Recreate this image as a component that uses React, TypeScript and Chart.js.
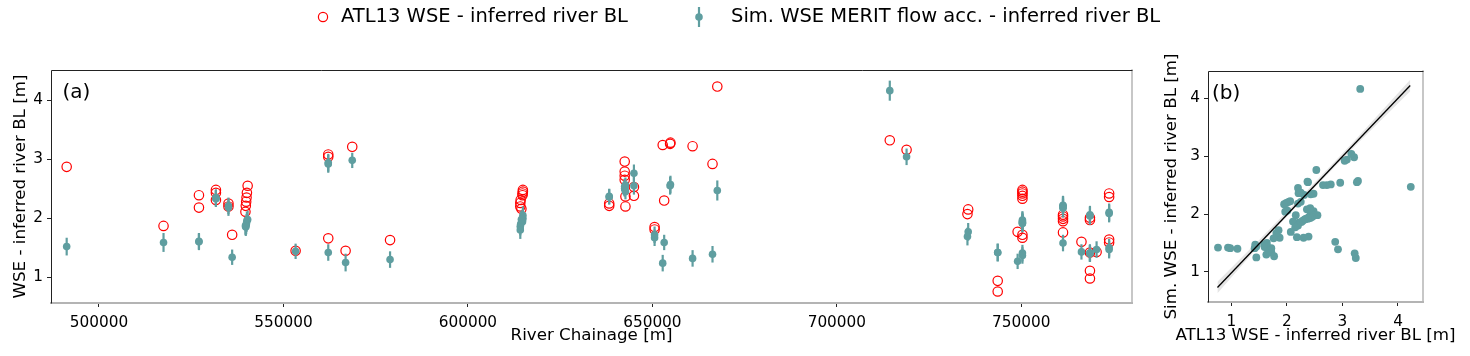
import React, { useEffect, useRef } from "react";
import { Chart, registerables } from "chart.js";

Chart.register(...registerables);

const FONT = "'DejaVu Sans', 'Liberation Sans', sans-serif";
const TEAL = "#5f9ea0";
const RED = "#ff0000";

// ---- Data ----
const chainage = [
  491250, 517500, 527100, 527100, 531700, 531700, 531700, 535100, 535100, 536100,
  540300, 540100, 540000, 539900, 539800, 539700, 553300, 562150, 562150, 562150,
  566850, 568650, 578900, 614900, 614900, 614800, 614800, 614300, 614200, 614200,
  614500, 638300, 638300, 642500, 642500, 642500, 642500, 642700, 642700, 645000,
  645000, 650600, 650600, 652800, 653200, 654900, 654800, 660900, 666300, 667600,
  714350, 718900, 735600, 735400, 743600, 743600, 749000, 750300, 750300, 750300,
  750300, 750300, 750300, 750300, 761300, 761300, 761300, 761300, 761300, 766300,
  768600, 768600, 768600, 770400, 768600, 768600, 773800, 773800, 773800, 773800,
];
const atl13 = [
  2.87, 1.87, 2.39, 2.18, 2.48, 2.43, 2.31, 2.25, 2.2, 1.72,
  2.55, 2.43, 2.35, 2.28, 2.21, 2.11, 1.45, 3.08, 3.04, 1.66,
  1.45, 3.21, 1.63, 2.48, 2.45, 2.42, 2.39, 2.31, 2.26, 2.2,
  2.16, 2.25, 2.21, 2.96, 2.79, 2.72, 2.65, 2.37, 2.2, 2.53,
  2.38, 1.85, 1.81, 3.24, 2.3, 3.28, 3.26, 3.22, 2.92, 4.23,
  3.32, 3.16, 2.15, 2.07, 0.94, 0.76, 1.77, 2.48, 2.45, 2.42,
  2.38, 2.33, 1.72, 1.67, 2.06, 2.03, 1.99, 1.95, 1.76, 1.6,
  2.01, 1.97, 1.42, 1.43, 1.11, 0.98, 2.42, 2.36, 1.64, 1.59,
];
const simWse = [
  1.52, 1.59, 1.61, 1.6, 2.35, 2.34, 2.33, 2.21, 2.18, 1.34,
  1.98, 1.96, 1.92, 1.88, 1.85, 1.87, 1.44, 2.94, 2.92, 1.42,
  1.25, 2.98, 1.3, 2.05, 2.0, 1.97, 1.94, 1.9, 1.86, 1.8,
  1.98, 2.37, 2.36, 2.54, 2.51, 2.5, 2.5, 2.56, 2.45, 2.76,
  2.55, 1.72, 1.67, 1.24, 1.59, 2.57, 2.55, 1.32, 1.39, 2.47,
  4.16, 3.04, 1.77, 1.69, 1.42, 1.42, 1.27, 1.97, 1.95, 1.93,
  1.92, 1.91, 1.41, 1.37, 2.22, 2.21, 2.19, 2.17, 1.58, 1.43,
  2.06, 2.04, 1.41, 1.47, 1.4, 1.41, 2.1, 2.08, 1.5, 1.47,
];
const simErr = [
  0.15, 0.16, 0.14, 0.14, 0.14, 0.14, 0.14, 0.14, 0.14, 0.13,
  0.15, 0.15, 0.15, 0.15, 0.15, 0.15, 0.13, 0.15, 0.15, 0.14,
  0.15, 0.13, 0.14, 0.15, 0.15, 0.15, 0.15, 0.15, 0.15, 0.15,
  0.15, 0.13, 0.13, 0.13, 0.13, 0.13, 0.13, 0.13, 0.13, 0.15,
  0.15, 0.14, 0.14, 0.14, 0.13, 0.15, 0.15, 0.14, 0.14, 0.17,
  0.17, 0.14, 0.15, 0.15, 0.15, 0.15, 0.13, 0.15, 0.15, 0.15,
  0.15, 0.15, 0.14, 0.14, 0.16, 0.16, 0.16, 0.16, 0.14, 0.13,
  0.15, 0.15, 0.15, 0.14, 0.14, 0.14, 0.15, 0.15, 0.15, 0.15,
];

// Fit line and its confidence band in panel (b)
const fitX = [0.75, 4.22];
const fitY = [0.73, 4.22];
const bandX = [0.75, 1.5, 2.3, 3.2, 4.22];
const bandLow = [0.63, 1.45, 2.26, 3.15, 4.12];
const bandHigh = [0.83, 1.55, 2.34, 3.25, 4.32];

// Ticks
const xTicksA = [500000, 550000, 600000, 650000, 700000, 750000];
const yTicksA = [1, 2, 3, 4];
const xTicksB = [1, 2, 3, 4];
const yTicksB = [1, 2, 3, 4];

const legendLabels = [
  "ATL13 WSE - inferred river BL",
  "Sim. WSE MERIT flow acc. - inferred river BL",
];
const xTitleA = "River Chainage [m]";
const xTitleB = "ATL13 WSE - inferred river BL [m]";

const TICK_FONT = { family: FONT, size: 15.3 };
const TITLE_FONT = { family: FONT, size: 16.7 };
const X_TITLE_Y = 336;

function framePlugin(label: string, labelDx: number, bottomTitle: string) {
  return {
    id: "frame" + label,
    afterDraw(chart: any) {
      const { ctx, chartArea: a } = chart;
      ctx.save();
      ctx.lineCap = "square";
      ctx.strokeStyle = "#b4b4b4";
      ctx.lineWidth = 2;
      ctx.beginPath();
      ctx.moveTo(a.left, a.bottom);
      ctx.lineTo(a.right, a.bottom);
      ctx.stroke();
      ctx.lineWidth = 1.5;
      ctx.beginPath();
      ctx.moveTo(a.right, a.top);
      ctx.lineTo(a.right, a.bottom);
      ctx.stroke();
      ctx.strokeStyle = "#222";
      ctx.lineWidth = 1;
      ctx.beginPath();
      ctx.moveTo(a.left + 0.5, a.bottom);
      ctx.lineTo(a.left + 0.5, a.top + 0.5);
      ctx.lineTo(a.right, a.top + 0.5);
      ctx.stroke();
      ctx.fillStyle = "#000";
      ctx.font = `20px ${FONT}`;
      ctx.textBaseline = "middle";
      ctx.textAlign = "left";
      ctx.fillText(label, a.left + labelDx, a.top + 23);
      ctx.font = `${TITLE_FONT.size}px ${FONT}`;
      ctx.textAlign = "center";
      ctx.fillText(bottomTitle, (a.left + a.right) / 2, X_TITLE_Y);
      ctx.restore();
    },
  };
}

const errorBarPlugin = {
  id: "errbars",
  beforeDatasetDraw(chart: any, args: any) {
    if (args.index !== 1) return;
    const { ctx } = chart;
    const x = chart.scales.x;
    const y = chart.scales.y;
    ctx.save();
    ctx.strokeStyle = TEAL;
    ctx.lineWidth = 2.2;
    chainage.forEach((c, i) => {
      const px = x.getPixelForValue(c);
      ctx.beginPath();
      ctx.moveTo(px, y.getPixelForValue(simWse[i] - simErr[i]));
      ctx.lineTo(px, y.getPixelForValue(simWse[i] + simErr[i]));
      ctx.stroke();
    });
    ctx.restore();
  },
};

const legendPlugin = {
  id: "figlegend",
  afterDraw(chart: any) {
    const { ctx } = chart;
    const cy = 17;
    ctx.save();
    ctx.strokeStyle = RED;
    ctx.lineWidth = 1.2;
    ctx.beginPath();
    ctx.arc(323, cy, 4.6, 0, Math.PI * 2);
    ctx.stroke();
    ctx.strokeStyle = TEAL;
    ctx.lineWidth = 2.2;
    ctx.beginPath();
    ctx.moveTo(699, cy - 10);
    ctx.lineTo(699, cy + 10);
    ctx.stroke();
    ctx.fillStyle = TEAL;
    ctx.beginPath();
    ctx.arc(699, cy, 3.8, 0, Math.PI * 2);
    ctx.fill();
    ctx.fillStyle = "#000";
    ctx.font = `19.5px ${FONT}`;
    ctx.textBaseline = "middle";
    ctx.textAlign = "left";
    ctx.fillText(legendLabels[0], 341, cy);
    ctx.fillText(legendLabels[1], 731, cy);
    ctx.restore();
  },
};

function axis(
  min: number,
  max: number,
  ticks: number[],
  size: { w?: number; h?: number },
  title: string | null,
  titlePad: any,
  tickPad: number
) {
  return {
    type: "linear",
    min,
    max,
    afterBuildTicks: (s: any) => {
      s.ticks = ticks.map((v) => ({ value: v }));
    },
    afterFit: (s: any) => {
      if (size.w !== undefined) s.width = size.w;
      if (size.h !== undefined) s.height = size.h;
    },
    ticks: {
      font: TICK_FONT,
      color: "#000",
      padding: tickPad,
      maxRotation: 0,
      autoSkip: false,
      callback: (v: any) => String(v),
    },
    grid: { drawOnChartArea: false, tickLength: 4, color: "#222", lineWidth: 1 },
    border: { display: false },
    title: {
      display: title !== null,
      text: title || "",
      font: TITLE_FONT,
      color: "#000",
      padding: titlePad,
    },
  };
}

export default function App() {
  const refA = useRef<HTMLCanvasElement>(null);
  const refB = useRef<HTMLCanvasElement>(null);

  useEffect(() => {
    const common = {
      animation: false,
      responsive: false,
      devicePixelRatio: 1,
      events: [],
      plugins: { legend: { display: false }, tooltip: { enabled: false } },
    };

    const chartA = new Chart(refA.current as HTMLCanvasElement, {
      type: "scatter",
      data: {
        datasets: [
          {
            label: legendLabels[0],
            data: chainage.map((c, i) => ({ x: c, y: atl13[i] })),
            pointStyle: "circle",
            pointRadius: 4.7,
            borderColor: RED,
            backgroundColor: "rgba(0,0,0,0)",
            pointBorderWidth: 1.2,
            order: 2,
          },
          {
            label: legendLabels[1],
            data: chainage.map((c, i) => ({ x: c, y: simWse[i] })),
            pointStyle: "circle",
            pointRadius: 3.8,
            borderWidth: 0,
            pointBorderWidth: 0,
            backgroundColor: TEAL,
            borderColor: TEAL,
            order: 1,
          },
        ],
      },
      options: {
        ...common,
        layout: { padding: { left: 0, top: 70, right: 338, bottom: 0 } },
        scales: {
          x: axis(487000, 780000, xTicksA, { h: 53 }, null, { top: 0, bottom: 0 }, 7),
          y: axis(0.565, 4.51, yTicksA, { w: 51 }, "WSE - inferred river BL [m]", { top: 10.5, bottom: 0 }, 4),
        },
      } as any,
      plugins: [errorBarPlugin, framePlugin("(a)", 11.5, xTitleA), legendPlugin],
    });

    const chartB = new Chart(refB.current as HTMLCanvasElement, {
      type: "scatter",
      data: {
        datasets: [
          {
            type: "line",
            label: "fit",
            data: fitX.map((x, i) => ({ x, y: fitY[i] })),
            borderColor: "#000",
            borderWidth: 1.3,
            pointRadius: 0,
            fill: false,
            order: 0,
          },
          {
            type: "line",
            label: "band high",
            data: bandX.map((x, i) => ({ x, y: bandHigh[i] })),
            borderWidth: 0,
            borderColor: "rgba(0,0,0,0)",
            backgroundColor: "rgba(150,150,150,0.25)",
            pointRadius: 0,
            fill: "+1",
            order: 2,
          },
          {
            type: "line",
            label: "band low",
            data: bandX.map((x, i) => ({ x, y: bandLow[i] })),
            borderWidth: 0,
            borderColor: "rgba(0,0,0,0)",
            pointRadius: 0,
            fill: false,
            order: 2,
          },
          {
            label: "Sim vs ATL13",
            data: atl13.map((v, i) => ({ x: v, y: simWse[i] })),
            pointStyle: "circle",
            pointRadius: 3.9,
            pointBorderWidth: 0,
            backgroundColor: TEAL,
            borderColor: TEAL,
            order: 1,
          },
        ],
      },
      options: {
        ...common,
        layout: { padding: { left: 0, top: 71, right: 47, bottom: 0 } },
        scales: {
          x: axis(0.58, 4.45, xTicksB, { h: 54 }, null, { top: 0, bottom: 0 }, 7),
          y: axis(0.48, 4.47, yTicksB, { w: 58 }, "Sim. WSE - inferred river BL [m]", { top: 12, bottom: 0 }, 4),
        },
      } as any,
      plugins: [framePlugin("(b)", 4, xTitleB)],
    });

    return () => {
      chartA.destroy();
      chartB.destroy();
    };
  }, []);

  return (
    <div
      style={{
        position: "fixed",
        left: 0,
        top: 0,
        width: 1470,
        height: 356,
        background: "#fff",
        overflow: "hidden",
      }}
    >
      <canvas
        ref={refA}
        width={1470}
        height={356}
        style={{ position: "absolute", left: 0, top: 0, width: 1470, height: 356 }}
      />
      <canvas
        ref={refB}
        width={320}
        height={356}
        style={{ position: "absolute", left: 1150, top: 0, width: 320, height: 356 }}
      />
    </div>
  );
}
